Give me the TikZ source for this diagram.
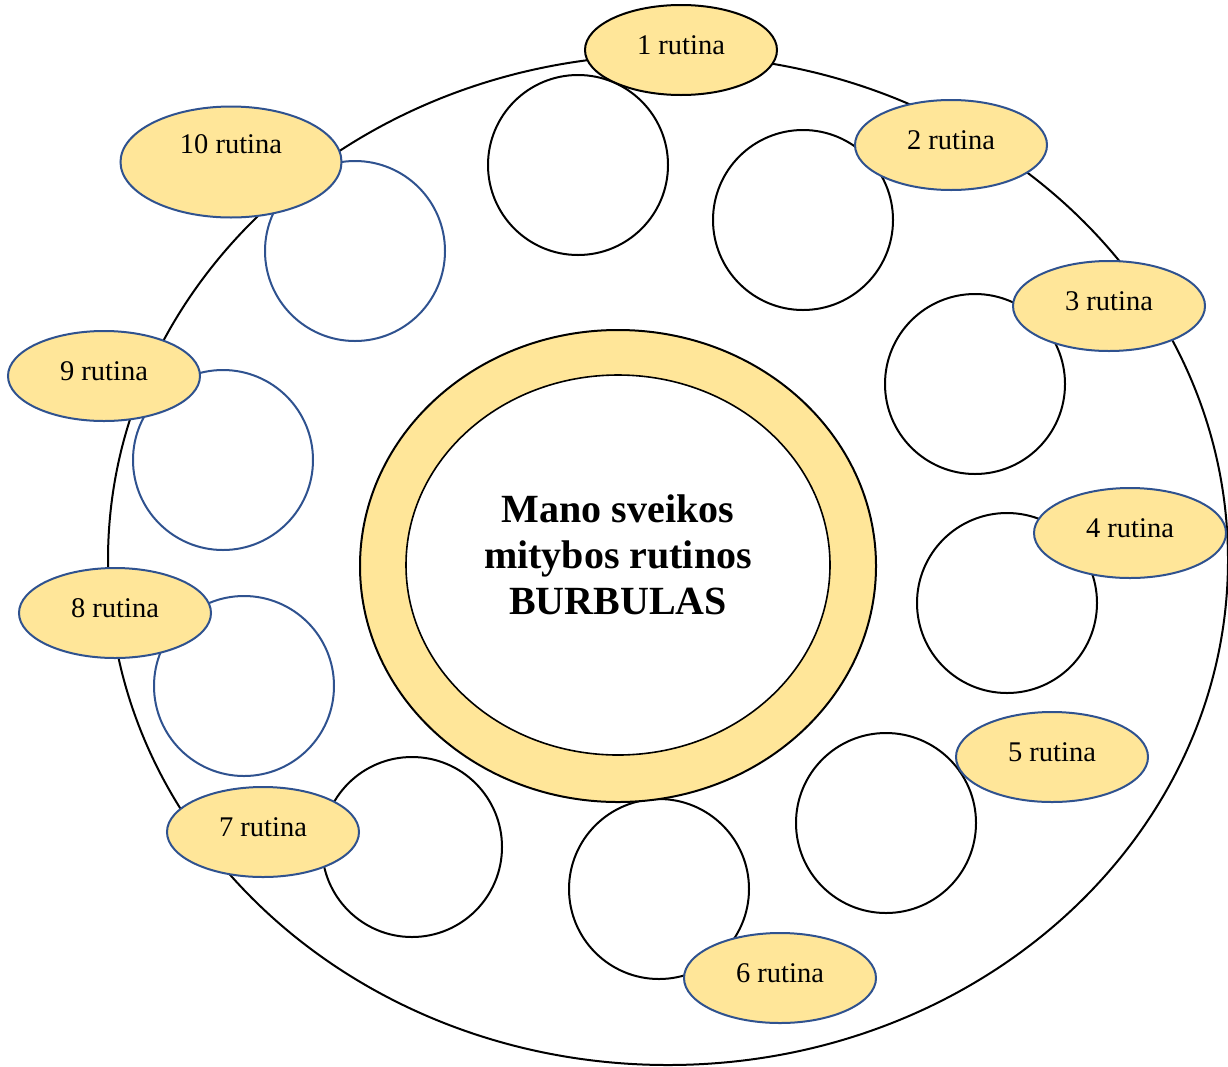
\documentclass[tikz,border=0pt]{standalone}
\usepackage{fontspec}
\setmainfont{Liberation Serif}
\usetikzlibrary{shapes.geometric}
\definecolor{bubyellow}{HTML}{FFE699}
\definecolor{bubblue}{HTML}{2F528F}
\begin{document}
\begin{tikzpicture}[x=1pt,y=-1pt,every node/.style={font=\fontsize{28.5}{32}\selectfont},
  bub/.style={draw,circle,line width=2pt,fill=white,minimum size=180pt,inner sep=0pt},
  tag/.style={draw=bubblue,ellipse,line width=2pt,fill=bubyellow,minimum width=192pt,minimum height=90pt,inner sep=0pt,text depth=9pt}]
\useasboundingbox (0,0) rectangle (1228,1066);
\node[draw,ellipse,line width=2pt,minimum width=1120pt,minimum height=1010pt] (frame) at (668,560) {};
\node[bub] (c1) at (578,165) {};
\node[bub] (c2) at (803,220) {};
\node[bub] (c3) at (975,384) {};
\node[bub] (c4) at (1007,603) {};
\node[bub] (c5) at (886,823) {};
\node[bub] (c6) at (659,889) {};
\node[bub] (c7) at (412,847) {};
\node[bub,draw=bubblue] (c8) at (244,686) {};
\node[bub,draw=bubblue] (c9) at (223,460) {};
\node[bub,draw=bubblue] (c10) at (355,251) {};
\node[draw,ellipse,line width=2pt,fill=bubyellow,minimum width=516pt,minimum height=472pt] (ring) at (618,566) {};
\node[draw,ellipse,line width=1.6pt,fill=white,minimum width=424pt,minimum height=380pt] (core) at (618,565) {};
\node[align=center,font=\fontsize{40}{46}\selectfont\bfseries] (title) at (618,555) {Mano sveikos\\mitybos rutinos\\BURBULAS};
\node[tag,draw=black] (t1) at (681,50) {1 rutina};
\node[tag] (t2) at (951,145) {2 rutina};
\node[tag] (t3) at (1109,306) {3 rutina};
\node[tag] (t4) at (1130,533) {4 rutina};
\node[tag] (t5) at (1052,757) {5 rutina};
\node[tag] (t6) at (780,978) {6 rutina};
\node[tag] (t7) at (263,832) {7 rutina};
\node[tag] (t8) at (115,613) {8 rutina};
\node[tag] (t9) at (104,376) {9 rutina};
\node[tag,minimum width=221pt,minimum height=111pt,text depth=36pt] (t10) at (231,162) {10 rutina};
\end{tikzpicture}
\end{document}
